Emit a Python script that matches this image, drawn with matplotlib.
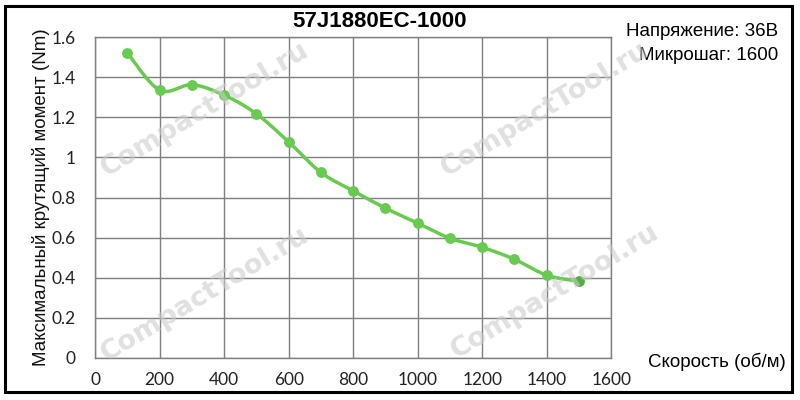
import numpy as np
import matplotlib
matplotlib.use('Agg')
import matplotlib.pyplot as plt
from matplotlib.patches import Rectangle

# data
speed = [100, 200, 300, 400, 500, 600, 700, 800, 900, 1000,
         1100, 1200, 1300, 1400, 1500]
torque = [1.52, 1.335, 1.362, 1.31, 1.217, 1.077, 0.925, 0.833, 0.747, 0.672,
          0.597, 0.552, 0.492, 0.413, 0.382]
x_ticks = [0, 200, 400, 600, 800, 1000, 1200, 1400, 1600]
y_ticks = [0, 0.2, 0.4, 0.6, 0.8, 1, 1.2, 1.4, 1.6]
y_tick_labels = ['0', '0.2', '0.4', '0.6', '0.8', '1', '1.2', '1.4', '1.6']
title = '57J1880EC-1000'
info_lines = ['Напряжение: 36В', 'Микрошаг: 1600']
watermark = 'CompactTool.ru'


def smooth(xs, ys, n=30):
    # catmull-rom style smoothing through the points (like Excel smoothed line)
    px = np.asarray(xs, float)
    py = np.asarray(ys, float)
    px = np.concatenate([[px[0]], px, [px[-1]]])
    py = np.concatenate([[py[0]], py, [py[-1]]])
    out_x, out_y = [], []
    t = np.linspace(0, 1, n)
    for i in range(1, len(px) - 2):
        p0 = np.array([px[i], py[i]])
        p3 = np.array([px[i + 1], py[i + 1]])
        c1 = p0 + (np.array([px[i + 1], py[i + 1]]) - np.array([px[i - 1], py[i - 1]])) / 6.0
        c2 = p3 - (np.array([px[i + 2], py[i + 2]]) - np.array([px[i], py[i]])) / 6.0
        b = ((1 - t) ** 3)[:, None] * p0 + (3 * (1 - t) ** 2 * t)[:, None] * c1 \
            + (3 * (1 - t) * t ** 2)[:, None] * c2 + (t ** 3)[:, None] * p3
        out_x.extend(b[:, 0])
        out_y.extend(b[:, 1])
    return out_x, out_y


fig = plt.figure(figsize=(8, 4), dpi=100)
ax = fig.add_axes([0.119, 0.105, 0.645, 0.8025])

green = '#68cb50'
sx, sy = smooth(speed, torque)
ax.plot(sx, sy, color=green, lw=2.5, zorder=3, solid_capstyle='round')
ax.plot(speed[:-1], torque[:-1], 'o', color=green, ms=6.8, zorder=4)
ax.plot(speed[-1:], torque[-1:], 'o', color='#4fae3c', ms=6.8, zorder=4)

ax.set_xlim(0, 1600)
ax.set_ylim(0, 1.6)
ax.set_xticks(x_ticks)
ax.set_yticks(y_ticks)
ax.set_yticklabels(y_tick_labels)
ax.grid(True, color='#7f7f7f', lw=1.0)
ax.set_axisbelow(True)
for s in ax.spines.values():
    s.set_color('#7f7f7f')
    s.set_linewidth(1.0)
ax.tick_params(length=0, labelsize=12.5, colors='#222222')
ax.tick_params(axis='x', pad=10)
ax.tick_params(axis='y', pad=14)
for lab in ax.get_xticklabels() + ax.get_yticklabels():
    lab.set_fontfamily('Lato')

ax.set_ylabel('Максимальный крутящий момент (Nm)', fontsize=13.5,
              family='Liberation Sans', color='#111111')
ax.yaxis.set_label_coords(-0.088, 0.5)

fig.text(0.474, 0.947, title, ha='center', va='center', fontsize=16,
         fontweight='bold', family='Liberation Sans')
fig.text(0.973, 0.92, info_lines[0], ha='right', va='center', fontsize=13.5,
         family='Liberation Sans')
fig.text(0.973, 0.862, info_lines[1], ha='right', va='center', fontsize=13.5,
         family='Liberation Sans')
fig.text(0.982, 0.095, 'Скорость (об/м)', ha='right', va='center',
         fontsize=13.5, family='Liberation Sans')

# watermarks
for wx, wy in [(205, 110), (545, 110), (205, 295), (555, 292)]:
    fig.text(wx / 800, 1 - wy / 400, watermark, ha='center', va='center',
             rotation=31, fontsize=19.5, fontweight='bold', color='#cccccc',
             alpha=0.6, family='DejaVu Sans', zorder=10)

# frame around the whole picture
fig.patches.append(Rectangle((5 / 800, 8 / 400), 787 / 800, 386 / 400,
                             transform=fig.transFigure, fill=False,
                             edgecolor='black', lw=2.2))

fig.savefig('out.png', dpi=100)
